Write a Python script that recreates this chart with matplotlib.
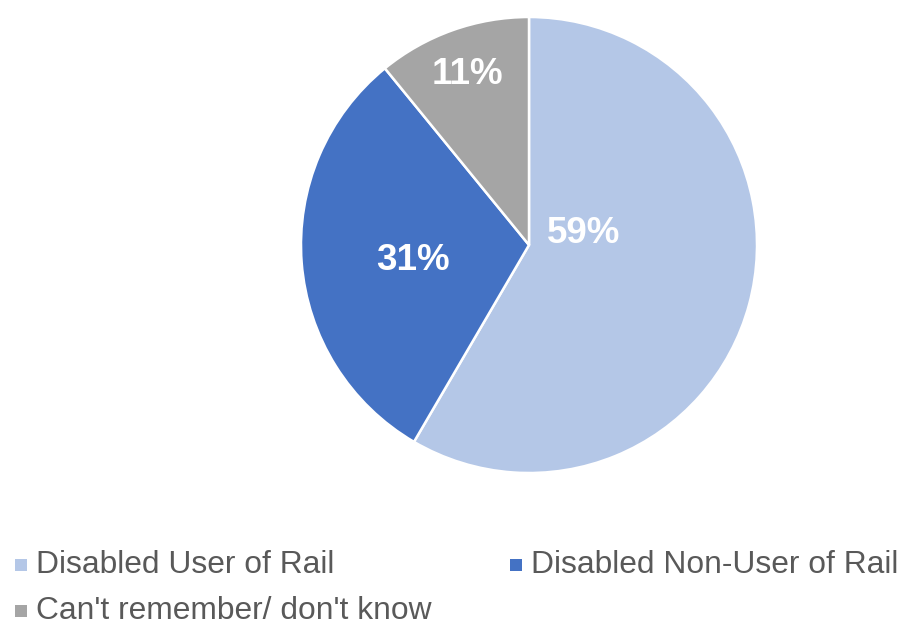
import matplotlib
matplotlib.use("Agg")
import matplotlib.pyplot as plt
from matplotlib.patches import Rectangle

plt.rcParams["font.family"] = ["Liberation Sans", "DejaVu Sans"]

categories = ["Disabled User of Rail", "Disabled Non-User of Rail", "Can't remember/ don't know"]
values = [59, 31, 11]
colors = ["#B4C7E7", "#4472C4", "#A5A5A5"]

# label anchors in pie data units (radius = 1)
label_xy = [(0.24, 0.05), (-0.51, -0.07), (-0.27, 0.75)]

W, H = 901, 626
fig = plt.figure(figsize=(W / 100, H / 100), dpi=100)

cx, cy, r = 529, 245, 228
ax = fig.add_axes([(cx - r) / W, (H - cy - r) / H, 2 * r / W, 2 * r / H])
ax.pie(values, colors=colors, startangle=90, counterclock=False,
       wedgeprops=dict(edgecolor="white", linewidth=1.8), radius=1)
ax.set_xlim(-1, 1)
ax.set_ylim(-1, 1)
ax.set_aspect("equal")
ax.axis("off")

for v, (x, y) in zip(values, label_xy):
    ax.text(x, y, f"{v}%", ha="center", va="center", color="white",
            fontsize=26.5, fontweight="bold")

# legend: two columns, wrapping to a second row
legend_pos = [(15, 565), (510, 565), (15, 611)]
sq = 12
for cat, col, (px, py) in zip(categories, colors, legend_pos):
    fig.patches.append(Rectangle((px / W, (H - py - sq / 2) / H), sq / W, sq / H,
                                 transform=fig.transFigure, facecolor=col,
                                 edgecolor="none"))
    fig.text((px + 21) / W, (H - py) / H, cat, ha="left", va="center",
             fontsize=22.9, color="#595959")

fig.savefig("out.png", dpi=100, facecolor="white")
